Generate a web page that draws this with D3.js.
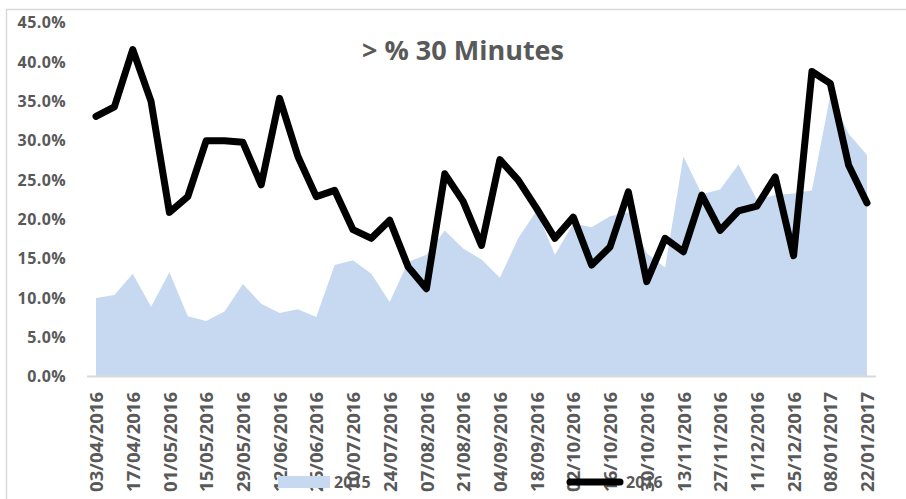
<!DOCTYPE html>
<html>
<head>
<meta charset="utf-8">
<script src="https://cdn.jsdelivr.net/npm/d3@7"></script>
<style>
  html, body { margin: 0; padding: 0; background: #fff; }
  svg { display: block; }
  text { font-family: "Open Sans", "Liberation Sans", sans-serif; font-weight: bold; fill: #595959; }
</style>
</head>
<body>
<svg id="chart" width="906" height="499"></svg>
<script>
const dates = [
  "03/04/2016","10/04/2016","17/04/2016","24/04/2016","01/05/2016","08/05/2016","15/05/2016","22/05/2016","29/05/2016",
  "05/06/2016","12/06/2016","19/06/2016","26/06/2016","03/07/2016","10/07/2016","17/07/2016","24/07/2016","31/07/2016",
  "07/08/2016","14/08/2016","21/08/2016","28/08/2016","04/09/2016","11/09/2016","18/09/2016","25/09/2016",
  "02/10/2016","09/10/2016","16/10/2016","23/10/2016","30/10/2016","06/11/2016","13/11/2016","20/11/2016","27/11/2016",
  "04/12/2016","11/12/2016","18/12/2016","25/12/2016","01/01/2017","08/01/2017","15/01/2017","22/01/2017"
];
const values2015 = [
  9.9, 10.3, 13.0, 8.8, 13.2, 7.6, 7.0, 8.2, 11.7, 9.2, 8.0, 8.5, 7.5, 14.1, 14.7, 13.0, 9.4, 14.5,
  15.4, 18.5, 16.2, 14.8, 12.5, 17.5, 21.0, 15.4, 19.4, 18.9, 20.3, 20.8, 15.6, 13.8, 27.9, 23.1, 23.7,
  26.9, 22.4, 23.0, 23.2, 23.6, 35.7, 30.8, 28.1
];
const values2016 = [
  33.0, 34.2, 41.5, 34.9, 20.8, 22.8, 29.9, 29.9, 29.7, 24.3, 35.3, 27.9, 22.8, 23.6, 18.6, 17.5, 19.8, 13.9,
  11.1, 25.7, 22.2, 16.6, 27.5, 24.9, 21.3, 17.5, 20.2, 14.1, 16.4, 23.4, 12.0, 17.5, 15.8, 23.0, 18.5,
  21.0, 21.6, 25.3, 15.3, 38.7, 37.2, 26.8, 22.0
];
const yTicks = [0, 5, 10, 15, 20, 25, 30, 35, 40, 45];
const seriesNames = ["2015", "2016"];
const title = "> % 30 Minutes";

const svg = d3.select("#chart");

// chart border (top/left visible)
svg.append("rect").attr("x", 6.5).attr("y", 9.5).attr("width", 1000).attr("height", 1000)
  .attr("fill", "none").attr("stroke", "#d9d9d9").attr("stroke-width", 1.5);

const x = d3.scalePoint().domain(d3.range(dates.length)).range([96, 867]);
const y = d3.scaleLinear().domain([0, 45]).range([376, 22]);

// 2015 area
const area = d3.area().x((d, i) => x(i)).y0(y(0)).y1(d => y(d));
svg.append("path").datum(values2015).attr("d", area).attr("fill", "#c6d9f0");

// x axis line
svg.append("line").attr("x1", 87).attr("x2", 876).attr("y1", y(0) + 0.5).attr("y2", y(0) + 0.5)
  .attr("stroke", "#d9d9d9").attr("stroke-width", 2);

// 2016 line
const line = d3.line().x((d, i) => x(i)).y(d => y(d));
svg.append("path").datum(values2016).attr("d", line)
  .attr("fill", "none").attr("stroke", "#000").attr("stroke-width", 7)
  .attr("stroke-linejoin", "round").attr("stroke-linecap", "round");

// y axis labels
const yAxis = d3.axisLeft(y).tickValues(yTicks).tickSize(0).tickPadding(0)
  .tickFormat(d => d.toFixed(1) + "%");
const gy = svg.append("g").attr("transform", "translate(66,0)").call(yAxis);
gy.select(".domain").remove();
gy.selectAll("text").style("font-size", "16px").style("letter-spacing", "0.4px")
  .attr("font-family", null).attr("fill", "#595959").attr("dy", "0.36em");

// x axis labels
const xAxis = d3.axisBottom(x).tickValues(d3.range(0, dates.length, 2)).tickSize(0)
  .tickFormat(i => dates[i]);
const gx = svg.append("g").attr("transform", `translate(0,${y(0)})`).call(xAxis);
gx.select(".domain").remove();
gx.selectAll("text")
  .attr("transform", "rotate(-90)")
  .attr("x", -16).attr("y", 0).attr("dy", "0.36em")
  .style("text-anchor", "end").style("font-size", "18.5px")
  .attr("font-family", null).attr("fill", "#595959");

// title
svg.append("text").attr("x", 463).attr("y", 60).attr("text-anchor", "middle")
  .style("font-size", "27px").text(title);

// legend
const lg = svg.append("g");
lg.append("rect").attr("x", 278).attr("y", 476).attr("width", 52).attr("height", 12).attr("fill", "#c6d9f0");
lg.append("text").attr("x", 334).attr("y", 488).style("font-size", "16px").text(seriesNames[0]);
lg.append("line").attr("x1", 570).attr("x2", 620).attr("y1", 482).attr("y2", 482)
  .attr("stroke", "#000").attr("stroke-width", 7).attr("stroke-linecap", "round");
lg.append("text").attr("x", 626).attr("y", 488).style("font-size", "16px").text(seriesNames[1]);
</script>
</body>
</html>
